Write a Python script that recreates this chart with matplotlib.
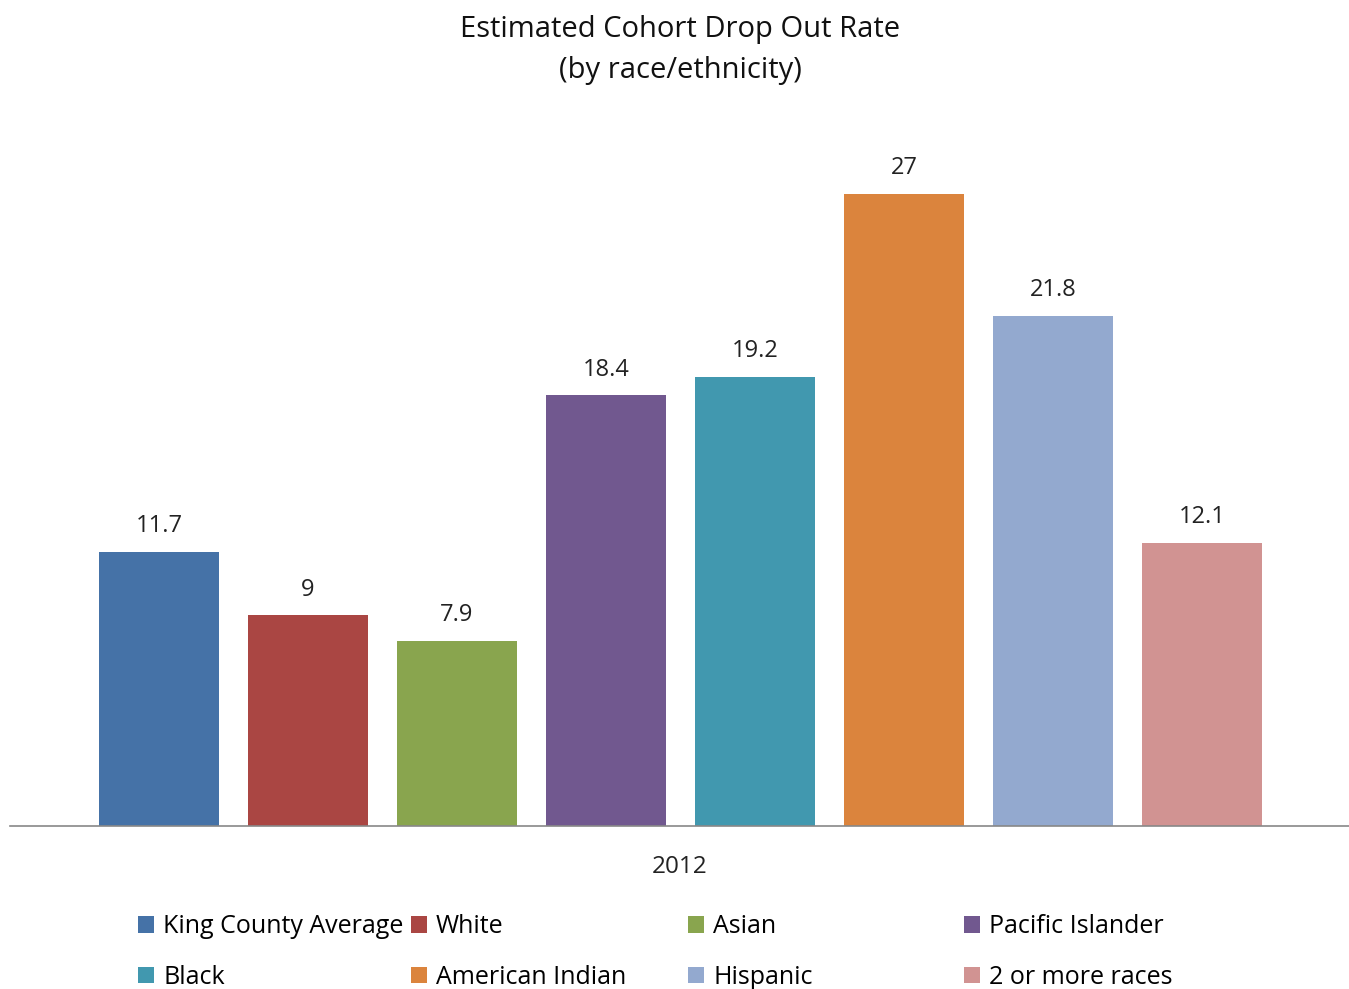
import matplotlib

matplotlib.use("Agg")
import matplotlib.pyplot as plt
from matplotlib.patches import Patch

plt.rcParams["font.family"] = ["Open Sans", "DejaVu Sans"]

categories = ["King County Average", "White", "Asian", "Pacific Islander",
              "Black", "American Indian", "Hispanic", "2 or more races"]
rates = [11.7, 9, 7.9, 18.4, 19.2, 27, 21.8, 12.1]
labels = ["11.7", "9", "7.9", "18.4", "19.2", "27", "21.8", "12.1"]
colors = ["#4572A7", "#AA4643", "#89A54E", "#71588F",
          "#4198AF", "#DB843D", "#93A9CF", "#D19392"]
year = "2012"

fig = plt.figure(figsize=(13.49, 9.89), dpi=100)
ax = fig.add_axes([10 / 1349, 163 / 989, 1 - 10 / 1349, 702 / 989])

xs = list(range(len(rates)))
ax.bar(xs, rates, width=0.805, color=colors, zorder=2)
for x, v, lab in zip(xs, rates, labels):
    ax.annotate(lab, (x, v), xytext=(0, 10), textcoords="offset points",
                ha="center", va="bottom", fontsize=17, color="#222222")

ax.set_xlim(-1.0, 7.987)
ax.set_ylim(0, 30)
ax.set_yticks([])
ax.set_xticks([])
for side in ("left", "right", "top"):
    ax.spines[side].set_visible(False)
ax.spines["bottom"].set_color("#888888")
ax.spines["bottom"].set_linewidth(1.2)

fig.text(680 / 1349, 1 - 867 / 989, year, ha="center", va="center",
         fontsize=17.5, color="#222222")
fig.text(680 / 1349, 1 - 50 / 989, "Estimated Cohort Drop Out Rate\n(by race/ethnicity)",
         ha="center", va="center", fontsize=21, linespacing=1.55, color="#111111")

# legend: 4 columns, two rows
col_x = [138, 411, 688, 964]
for c in range(4):
    idx = [c, c + 4]
    handles = [Patch(facecolor=colors[i]) for i in idx]
    fig.legend(handles, [categories[i] for i in idx],
               loc="upper left", bbox_to_anchor=(col_x[c] / 1349, 1 - 914 / 989),
               frameon=False, fontsize=18, handlelength=0.65, handleheight=0.65,
               handletextpad=0.35, labelspacing=1.03, borderaxespad=0, borderpad=0)

fig.savefig("out.png", dpi=100)
